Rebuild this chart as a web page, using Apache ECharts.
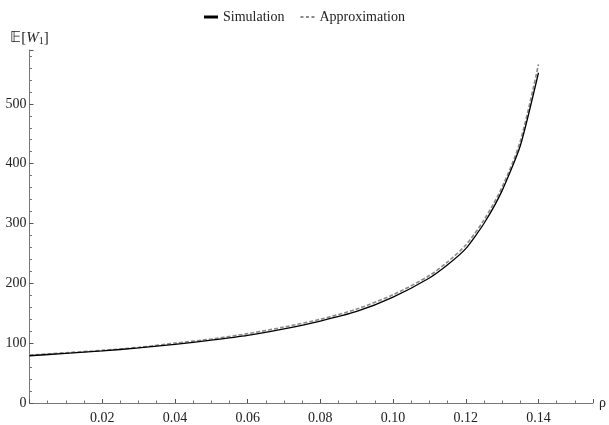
<!DOCTYPE html>
<html>
<head>
<meta charset="utf-8">
<script src="https://cdn.jsdelivr.net/npm/echarts@6/dist/echarts.min.js"></script>
<style>html,body{margin:0;padding:0;background:#fff}#c{width:609px;height:425px}</style>
</head>
<body>
<div id="c"></div>
<script>
const xValues = [0, 0.01, 0.02, 0.03, 0.04, 0.05, 0.06, 0.07, 0.08, 0.09, 0.10, 0.11, 0.115, 0.12, 0.125, 0.13, 0.135, 0.14];
const simulation = [79, 83, 87, 92, 98, 105, 113, 124, 137, 153, 177, 209, 231, 258, 300, 355, 430, 552];
const approximation = [80, 84, 88, 93, 100, 107, 116, 127, 140, 157, 181, 213, 236, 264, 306, 361, 438, 566];
const seriesNames = ['Simulation', 'Approximation'];

const font = 'Liberation Serif';
const chart = echarts.init(document.getElementById('c'));
chart.setOption({
  animation: false,
  textStyle: { fontFamily: font },
  legend: {
    top: 5, left: 'center', itemWidth: 14, itemHeight: 10, itemGap: 16,
    textStyle: { fontFamily: font, fontSize: 14, color: '#222' },
    data: [
      { name: seriesNames[0], icon: 'path://M0,0 L14,0 L14,3 L0,3 Z', itemStyle: { color: '#000' } },
      { name: seriesNames[1], icon: 'path://M0,0 h3 v2 h-3 Z M5.5,0 h3 v2 h-3 Z M11,0 h3 v2 h-3 Z', itemStyle: { color: '#8a8a8a' } }
    ]
  },
  grid: { left: 29.5, right: 9, top: 50, bottom: 22 },
  xAxis: {
    type: 'value', min: 0, max: 0.155, interval: 0.02,
    name: 'ρ', nameLocation: 'end', nameGap: 6,
    nameTextStyle: { fontFamily: font, fontSize: 14, color: '#222', verticalAlign: 'middle' },
    axisLine: { lineStyle: { color: '#777', width: 1 } },
    axisTick: { inside: true, length: 4, lineStyle: { color: '#555' } },
    minorTick: { show: true, splitNumber: 4, length: 2.5, lineStyle: { color: '#777' } },
    splitLine: { show: false },
    axisLabel: { showMinLabel: false, showMaxLabel: false, fontFamily: font, fontSize: 14, color: '#222', margin: 8,
      formatter: v => v.toFixed(2) }
  },
  yAxis: {
    type: 'value', min: 0, max: 590, interval: 100,
    name: '{e|𝔼[}{w|W}{s|1}{e|]}', nameLocation: 'end', nameGap: 4,
    nameTextStyle: { align: 'center', rich: {
      e: { fontFamily: font, fontSize: 15, color: '#222' },
      w: { fontFamily: font, fontSize: 15, fontStyle: 'italic', color: '#222' },
      s: { fontFamily: font, fontSize: 10, color: '#222', verticalAlign: 'bottom', padding: [6, 0, 0, 0] }
    } },
    axisLine: { show: true, lineStyle: { color: '#777', width: 1 } },
    axisTick: { show: true, inside: true, length: 4, lineStyle: { color: '#555' } },
    minorTick: { show: true, splitNumber: 5, length: 2.5, lineStyle: { color: '#777' } },
    splitLine: { show: false },
    axisLabel: { showMaxLabel: false, fontFamily: font, fontSize: 14, color: '#222', margin: 3 }
  },
  series: [
    {
      name: seriesNames[0], type: 'line', symbol: 'none', smooth: 0.2, z: 3,
      data: xValues.map((x, i) => [x, simulation[i]]),
      lineStyle: { color: '#000', width: 1.3 },
      itemStyle: { color: '#000' }
    },
    {
      name: seriesNames[1], type: 'line', symbol: 'none', smooth: 0.3, z: 2,
      data: xValues.map((x, i) => [x, approximation[i]]),
      lineStyle: { color: '#8a8a8a', width: 1.6, type: [4, 2] },
      itemStyle: { color: '#8a8a8a' }
    }
  ]
});
</script>
</body>
</html>
